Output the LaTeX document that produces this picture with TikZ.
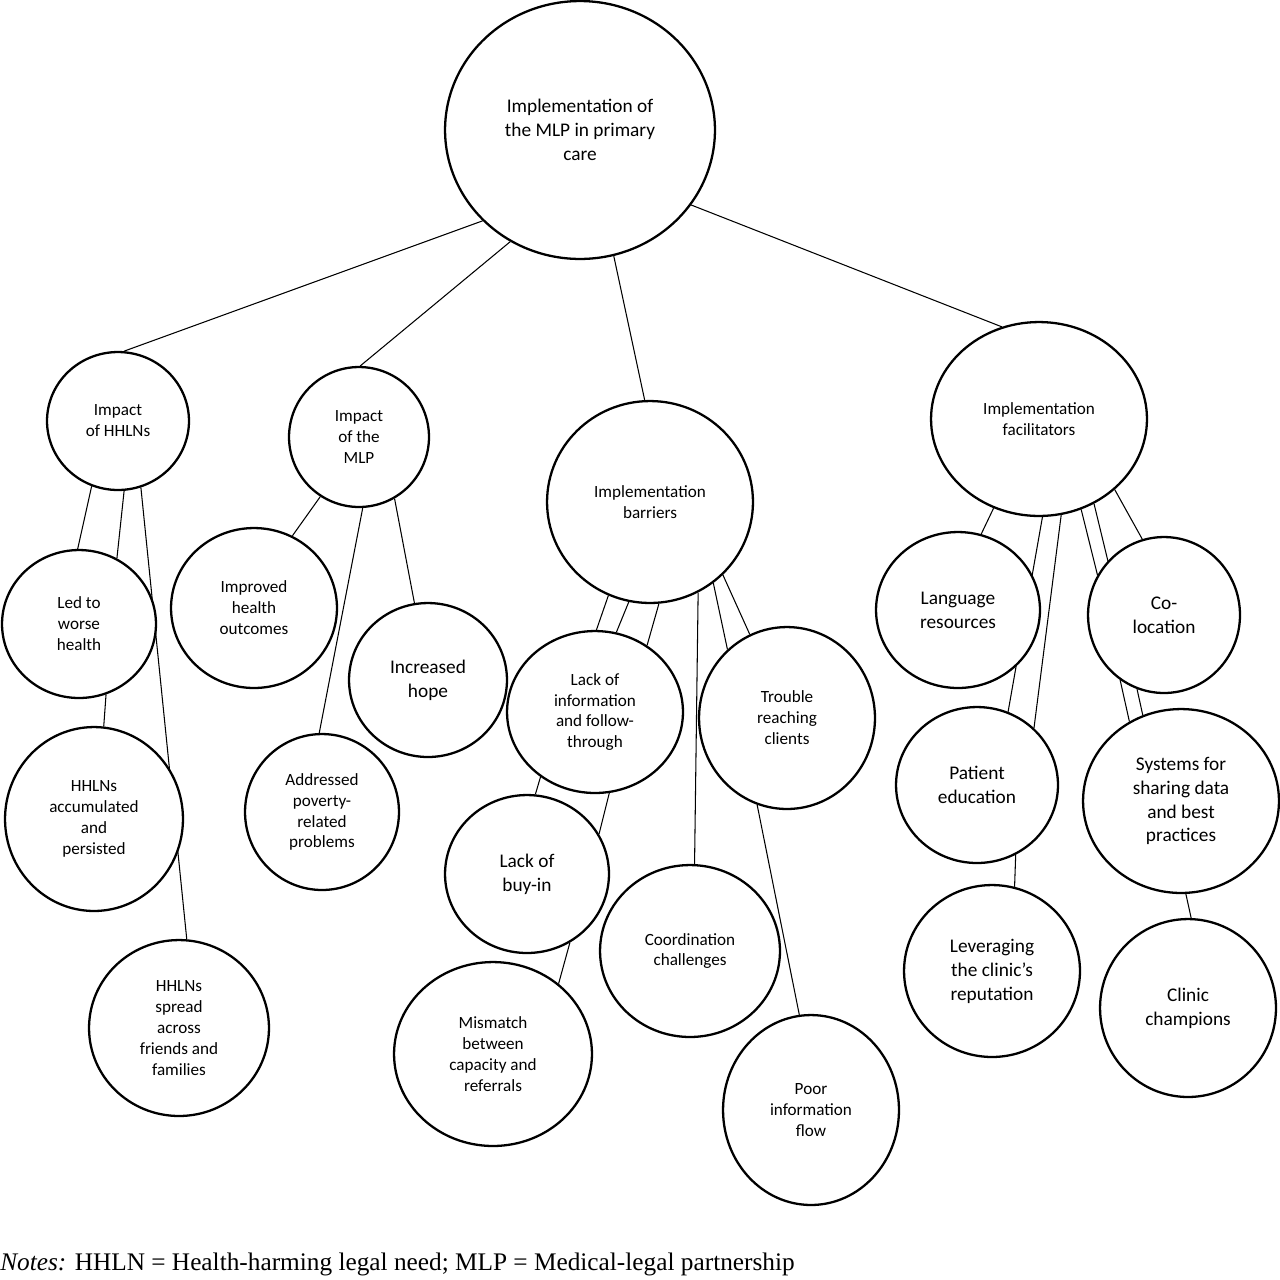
\documentclass[tikz,border=0pt]{standalone}
\usepackage{fontspec}
\setmainfont{Carlito}
\newfontfamily\notefont{Liberation Serif}
\usetikzlibrary{shapes.geometric}
\pgfdeclarelayer{bg}
\pgfsetlayers{bg,main}
\tikzset{
  bub/.style 2 args={draw,ellipse,fill=white,line width=1.3pt,inner sep=0pt,align=center,
    minimum width=#1*0.04cm,minimum height=#2*0.04cm},
  sm/.style={font=\fontsize{9.75}{11.9}\selectfont},
  lg/.style={font=\fontsize{11}{13.6}\selectfont},
  link/.style={line width=.6pt}
}
\begin{document}
\begin{tikzpicture}[x=.02cm,y=-.02cm]
\useasboundingbox (0,0) rectangle (1280,1279);
% root and themes
\node[bub={135}{129},lg] (top) at (580,130) {Implementation of\\the MLP in primary\\care};
\node[bub={71}{69},sm] (hhln) at (118,421) {Impact\\of HHLNs};
\node[bub={70}{70},sm] (mlp) at (359,437) {Impact\\of the\\MLP};
\node[bub={103}{101},sm] (barr) at (650,502) {Implementation\\barriers};
\node[bub={108}{97},sm] (facil) at (1039,419) {Implementation\\facilitators};
% impact of HHLNs
\node[bub={77}{74},sm] (led) at (79,624) {Led to\\worse\\health};
\node[bub={89}{92},sm] (accum) at (94,819) {HHLNs\\accumulated\\and\\persisted};
\node[bub={90}{88},sm] (spread) at (179,1028) {HHLNs\\spread\\across\\friends and\\families};
% impact of the MLP
\node[bub={83}{80},sm] (improved) at (254,608) {Improved\\health\\outcomes};
\node[bub={79}{77},lg] (hope) at (428,680) {Increased\\hope};
\node[bub={77}{78},sm] (poverty) at (322,812) {Addressed\\poverty-\\related\\problems};
% barriers
\node[bub={88}{81},sm] (info) at (595,712) {Lack of\\information\\and follow-\\through};
\node[bub={88}{91},sm] (reach) at (787,718) {Trouble\\reaching\\clients};
\node[bub={82}{79},lg] (buyin) at (527,874) {Lack of\\buy-in};
\node[bub={90}{86},sm] (coord) at (690,951) {Coordination\\challenges};
\node[bub={99}{92},sm] (mismatch) at (493,1054) {Mismatch\\between\\capacity and\\referrals};
\node[bub={88}{95},sm] (flow) at (811,1110) {Poor\\information\\flow};
% facilitators
\node[bub={82}{78},lg] (lang) at (958,610) {Language\\resources};
\node[bub={76}{78},lg] (coloc) at (1164,615) {Co-\\location};
\node[bub={81}{78},lg] (educ) at (977,785) {Patient\\education};
\node[bub={98}{92},lg] (systems) at (1181,801) {Systems for\\sharing data\\and best\\practices};
\node[bub={88}{86},lg] (rep) at (992,971) {Leveraging\\the clinic’s\\reputation};
\node[bub={88}{89},lg] (champ) at (1188,1008) {Clinic\\champions};
% links, behind the bubbles
\begin{pgfonlayer}{bg}
\foreach \a/\p/\b/\q in {top/-137/hhln/85,top/-122/mlp/89,top/-75/barr/93,top/-34/facil/112,
  hhln/-112/led/91,hhln/-85/led/60,hhln/-71/spread/85,led/-69/accum/84,
  mlp/-123/improved/62,mlp/-87/poverty/92,mlp/-60/hope/100,
  barr/-114/info/89,barr/-102/info/75,barr/-85/info/52,barr/-62/coord/87,
  barr/-52/reach/131,barr/-45/reach/114,info/-130/buyin/84,info/-80/buyin/29,
  buyin/-58/mismatch/47,reach/-109/flow/97,
  facil/-117/lang/73,facil/-88/educ/67,facil/-77/educ/45,educ/-61/rep/75,
  facil/-65/coloc/149,facil/-57/coloc/136,facil/-43/coloc/106,
  coloc/-124/systems/123,coloc/-110/systems/114,systems/-87/champ/88}
  \draw[link] (\a.\p)--(\b.\q);
\end{pgfonlayer}
\node[anchor=base west,inner sep=0pt,font=\notefont\fontsize{14.4}{17}\selectfont] (notes) at (0,1270)
  {\textit{Notes:} HHLN = Health-harming legal need; MLP = Medical-legal partnership};
\end{tikzpicture}
\end{document}
